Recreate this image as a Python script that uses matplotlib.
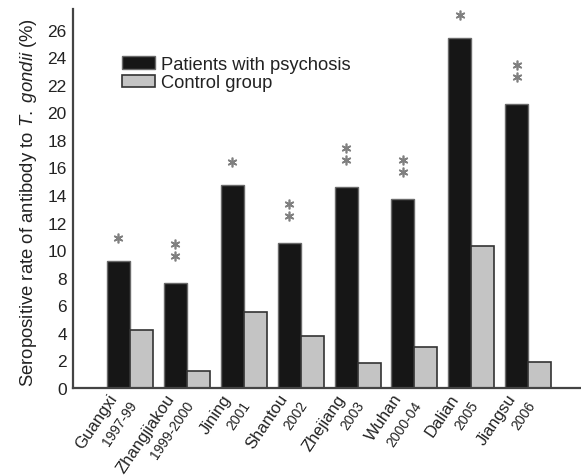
import matplotlib
matplotlib.use("Agg")
import matplotlib.pyplot as plt
import numpy as np
from matplotlib.transforms import ScaledTranslation

plt.rcParams['font.family'] = ['Liberation Sans', 'DejaVu Sans']
plt.rcParams['mathtext.fontset'] = 'custom'
plt.rcParams['mathtext.rm'] = 'Liberation Sans'
plt.rcParams['mathtext.it'] = 'Liberation Sans:italic'

regions = ["Guangxi", "Zhangjiakou", "Jining", "Shantou", "Zhejiang", "Wuhan", "Dalian", "Jiangsu"]
years = ["1997-99", "1999-2000", "2001", "2002", "2003", "2000-04", "2005", "2006"]
patients = [9.2, 7.6, 14.7, 10.5, 14.6, 13.7, 25.4, 20.6]
controls = [4.2, 1.2, 5.5, 3.8, 1.8, 3.0, 10.3, 1.9]
stars = [1, 2, 1, 2, 2, 2, 1, 2]
yticks = list(range(0, 27, 2))

fig = plt.figure(figsize=(5.81, 4.77), dpi=100)
ax = fig.add_axes([73/581, 88/477, 507/581, 379/477])

x = np.arange(len(regions))
w = 0.404
ax.bar(x - w/2, patients, width=w, color='#161616', edgecolor='#6a6a6a', linewidth=1.0,
       label='Patients with psychosis', zorder=2)
ax.bar(x + w/2, controls, width=w, color='#c4c4c4', edgecolor='#333333', linewidth=1.2,
       label='Control group', zorder=2)

ax.set_xlim(-1.0, 7.91)
ax.set_ylim(0, 27.5)
ax.set_yticks(yticks)
ax.set_yticklabels([str(t) for t in yticks], fontsize=12.5, color='#222222')
ax.tick_params(axis='y', length=0, pad=4.5)
ax.set_xticks([])
for s in ['top', 'right']:
    ax.spines[s].set_visible(False)
for s in ['left', 'bottom']:
    ax.spines[s].set_color('#444444')
    ax.spines[s].set_linewidth(1.6)

ax.set_ylabel('Seropositive rate of antibody to $\\it{T.}$ $\\it{gondii}$ (%)', fontsize=13.3, color='#222222')
ax.yaxis.set_label_coords(-0.068, 0.492)

# significance asterisks
for xi, val, n in zip(x, patients, stars):
    offs = [23] if n == 1 else [27, 39]
    for o in offs:
        tr = ax.transData + ScaledTranslation(0, o * 0.72 / 72, fig.dpi_scale_trans)
        ax.plot([xi - w/2], [val], marker=(6, 2, 0), markersize=7, markeredgewidth=1.2,
                color='#808080', transform=tr, clip_on=False, zorder=3)

# category labels (name + year)
for xi, name, yr in zip(x, regions, years):
    tr1 = ax.get_xaxis_transform() + ScaledTranslation(-22 * 0.72 / 72, -3 * 0.72 / 72, fig.dpi_scale_trans)
    ax.text(xi, 0, name, transform=tr1, rotation=56, rotation_mode='anchor',
            ha='right', va='top', fontsize=12, color='#222222')
    tr2 = ax.get_xaxis_transform() + ScaledTranslation(-2 * 0.72 / 72, -10 * 0.72 / 72, fig.dpi_scale_trans)
    ax.text(xi, 0, yr, transform=tr2, rotation=56, rotation_mode='anchor',
            ha='right', va='top', fontsize=10, color='#222222')

leg = ax.legend(loc='upper left', bbox_to_anchor=(122/581, 1 - 57/477), bbox_transform=fig.transFigure,
                frameon=False, fontsize=13.2, handlelength=1.8, handleheight=0.66,
                handletextpad=0.33, labelspacing=0.08, borderpad=0, borderaxespad=0)
for t in leg.get_texts():
    t.set_color('#222222')

fig.savefig('out.png', dpi=100)
